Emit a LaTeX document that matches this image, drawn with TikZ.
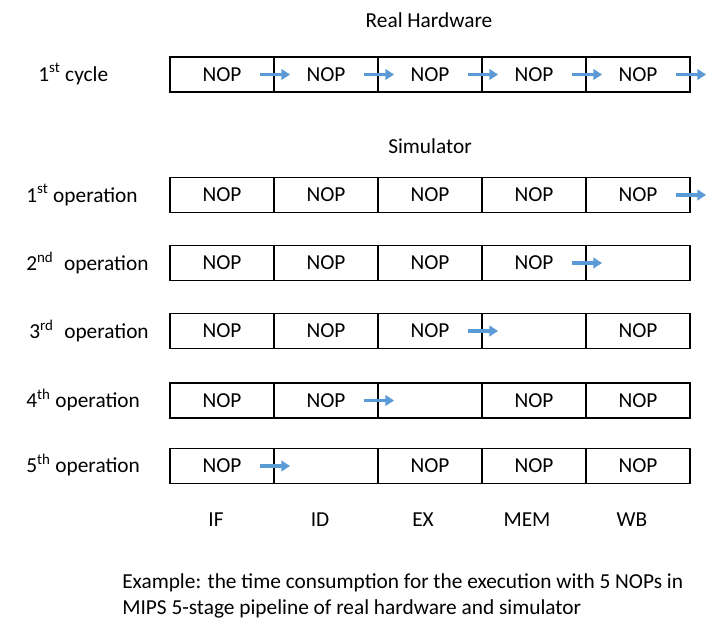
\documentclass[tikz,border=0pt]{standalone}
\usepackage{fontspec}
\setmainfont{Carlito}
\usetikzlibrary{arrows.meta,positioning}
\definecolor{ink}{HTML}{000000}
\definecolor{flowblue}{HTML}{5B9BD5}
\tikzset{
  every node/.style={font=\fontsize{16}{19}\selectfont,text=ink},
  cell/.style={draw=ink,line width=0.9pt,minimum width=78pt,minimum height=26.25pt,inner sep=0pt,outer sep=0pt},
  rowlabel/.style={anchor=west,inner sep=0pt},
  stagelabel/.style={inner sep=0pt},
  heading/.style={inner sep=0pt},
  caption/.style={anchor=west,align=left,inner sep=0pt,font=\fontsize{16}{19.5}\selectfont},
  flow/.style={-{Triangle[length=6.5pt,width=8pt]},line width=2.6pt,draw=flowblue},
}

\begin{document}
\begin{tikzpicture}[x=0.75pt,y=-0.75pt,node distance=0pt]
\useasboundingbox (0,0) rectangle (722,632);

% headings
\node[heading] (real) at (429,20) {Real Hardware};
\node[heading] (sim) at (430,146) {Simulator};

% real hardware row
\node[rowlabel] (cyc) at (38,74) {1\textsuperscript{st} cycle};
\node[cell] (h1) at (222,74.5) {NOP};
\node[cell,right=of h1] (h2) {NOP};
\node[cell,right=of h2] (h3) {NOP};
\node[cell,right=of h3] (h4) {NOP};
\node[cell,right=of h4] (h5) {NOP};

% simulator rows
\node[rowlabel] (op1) at (26,195) {1\textsuperscript{st} operation};
\node[cell] (a1) at (222,195) {NOP};
\node[cell,right=of a1] (a2) {NOP};
\node[cell,right=of a2] (a3) {NOP};
\node[cell,right=of a3] (a4) {NOP};
\node[cell,right=of a4] (a5) {NOP};

\node[rowlabel] (op2) at (26,263) {2\textsuperscript{nd}\hspace{0.5em}operation};
\node[cell] (b1) at (222,263) {NOP};
\node[cell,right=of b1] (b2) {NOP};
\node[cell,right=of b2] (b3) {NOP};
\node[cell,right=of b3] (b4) {NOP};
\node[cell,right=of b4] (b5) {};

\node[rowlabel] (op3) at (29,331) {3\textsuperscript{rd}\hspace{0.5em}operation};
\node[cell] (c1) at (222,331) {NOP};
\node[cell,right=of c1] (c2) {NOP};
\node[cell,right=of c2] (c3) {NOP};
\node[cell,right=of c3] (c4) {};
\node[cell,right=of c4] (c5) {NOP};

\node[rowlabel] (op4) at (26,400) {4\textsuperscript{th} operation};
\node[cell] (d1) at (222,400.5) {NOP};
\node[cell,right=of d1] (d2) {NOP};
\node[cell,right=of d2] (d3) {};
\node[cell,right=of d3] (d4) {NOP};
\node[cell,right=of d4] (d5) {NOP};

\node[rowlabel] (op5) at (26,465) {5\textsuperscript{th} operation};
\node[cell] (e1) at (222,466) {NOP};
\node[cell,right=of e1] (e2) {};
\node[cell,right=of e2] (e3) {NOP};
\node[cell,right=of e3] (e4) {NOP};
\node[cell,right=of e4] (e5) {NOP};

% stage names
\node[stagelabel] (sIF) at (216,520) {IF};
\node[stagelabel] (sID) at (320,520) {ID};
\node[stagelabel] (sEX) at (423,520) {EX};
\node[stagelabel] (sMEM) at (527,520) {MEM};
\node[stagelabel] (sWB) at (632,520) {WB};

% arrows
\draw[flow] ([xshift=-10.5pt]h1.east) -- ([xshift=12pt]h2.west);
\draw[flow] ([xshift=-10.5pt]h2.east) -- ([xshift=12pt]h3.west);
\draw[flow] ([xshift=-10.5pt]h3.east) -- ([xshift=12pt]h4.west);
\draw[flow] ([xshift=-10.5pt]h4.east) -- ([xshift=12pt]h5.west);
\draw[flow] ([xshift=-10.5pt]h5.east) -- ([xshift=12pt]h5.east);
\draw[flow] ([xshift=-10.5pt]a5.east) -- ([xshift=12pt]a5.east);
\draw[flow] ([xshift=-10.5pt]b4.east) -- ([xshift=12pt]b5.west);
\draw[flow] ([xshift=-10.5pt]c3.east) -- ([xshift=12pt]c4.west);
\draw[flow] ([xshift=-10.5pt]d2.east) -- ([xshift=12pt]d3.west);
\draw[flow] ([xshift=-10.5pt]e1.east) -- ([xshift=12pt]e2.west);

% caption
\node[caption] (note) at (122,596) {Example: the time consumption for the execution with 5 NOPs in\\MIPS 5-stage pipeline of real hardware and simulator};

\end{tikzpicture}
\end{document}
